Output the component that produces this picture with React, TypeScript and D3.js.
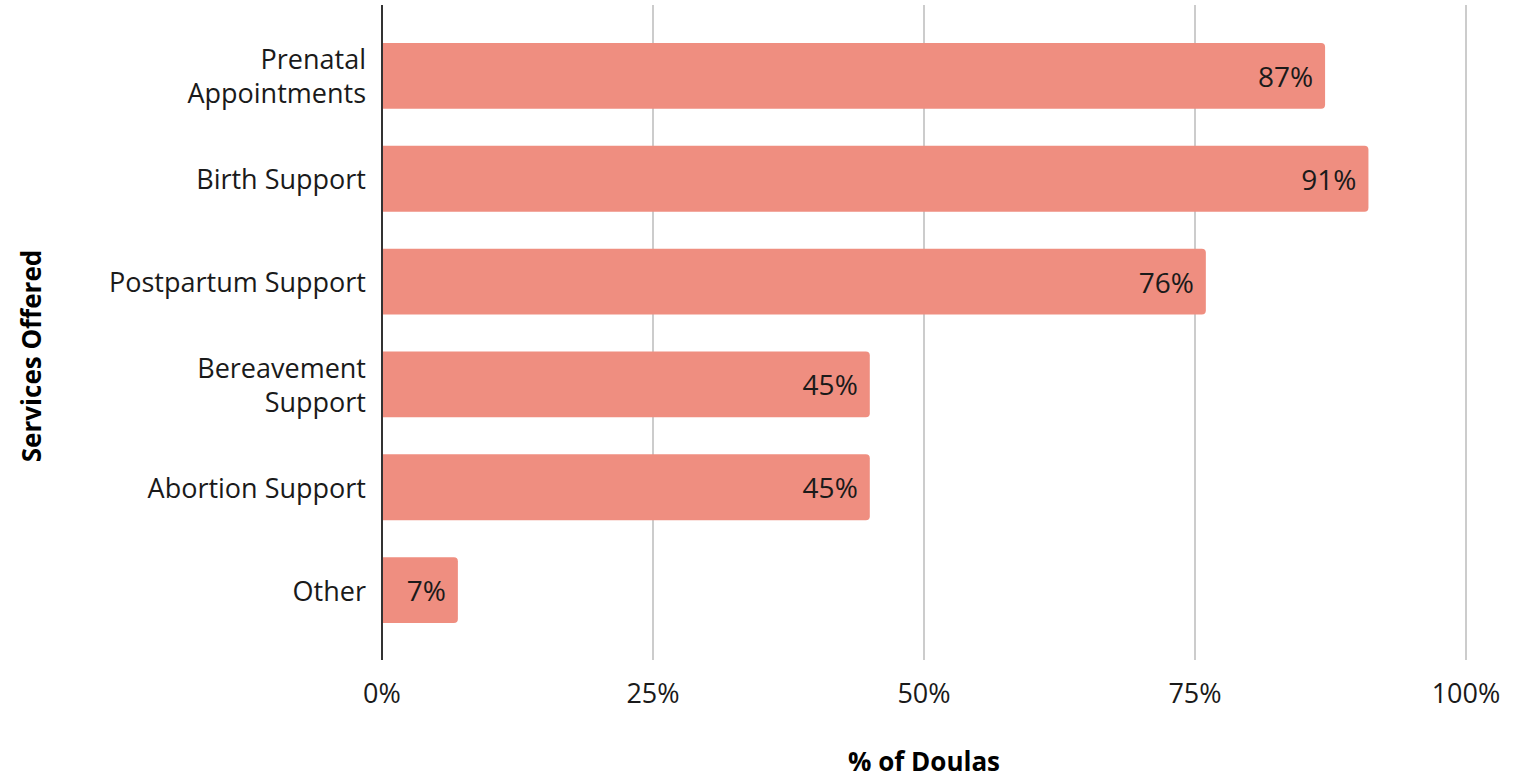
import React from "react";
import * as d3 from "d3";

const categories = [
  ["Prenatal", "Appointments"],
  ["Birth Support"],
  ["Postpartum Support"],
  ["Bereavement", "Support"],
  ["Abortion Support"],
  ["Other"],
];
const values = [87, 91, 76, 45, 45, 7];
const xTicks = [0, 25, 50, 75, 100];

const W = 1513;
const H = 782;
const FONT = "'Open Sans', Lato, sans-serif";

export default function App() {
  const x = d3.scaleLinear().domain([0, 100]).range([382, 1466]);
  const keys = categories.map((c) => c.join(" "));
  const y = d3
    .scaleBand<string>()
    .domain(keys)
    .range([24.5, 641.5])
    .paddingInner(0.36)
    .paddingOuter(0.18);
  const bw = y.bandwidth();
  const r = 4;

  const barPath = (v: number, top: number) => {
    const x0 = x(0);
    const x1 = x(v);
    const p = d3.path();
    p.moveTo(x0, top);
    p.lineTo(x1 - r, top);
    p.arcTo(x1, top, x1, top + r, r);
    p.lineTo(x1, top + bw - r);
    p.arcTo(x1, top + bw, x1 - r, top + bw, r);
    p.lineTo(x0, top + bw);
    p.closePath();
    return p.toString();
  };

  return (
    <svg
      width={W}
      height={H}
      style={{ position: "absolute", left: 0, top: 0, background: "#fff" }}
      fontFamily={FONT}
    >
      {xTicks.slice(1).map((t) => (
        <line key={t} x1={x(t)} x2={x(t)} y1={5} y2={660} stroke="#cccccc" strokeWidth={2} />
      ))}
      {values.map((v, i) => {
        const top = y(keys[i])!;
        return (
          <g key={keys[i]}>
            <path d={barPath(v, top)} fill="#ef8e80" />
            <text
              x={x(v) - 12}
              y={top + bw / 2}
              textAnchor="end"
              dominantBaseline="central"
              fontSize={28}
              fill="#1a1a1a"
            >
              {v}%
            </text>
          </g>
        );
      })}
      <line x1={x(0)} x2={x(0)} y1={5} y2={660} stroke="#333" strokeWidth={2} />
      {categories.map((lines, i) => {
        const cy = y(keys[i])! + bw / 2;
        const lh = 34;
        return (
          <text key={keys[i]} x={366} textAnchor="end" fontSize={27} fill="#1a1a1a">
            {lines.map((l, j) => (
              <tspan
                key={j}
                x={366}
                y={cy + (j - (lines.length - 1) / 2) * lh}
                dominantBaseline="central"
              >
                {l}
              </tspan>
            ))}
          </text>
        );
      })}
      {xTicks.map((t) => (
        <text
          key={t}
          x={x(t)}
          y={692}
          textAnchor="middle"
          dominantBaseline="central"
          fontSize={27}
          fill="#1a1a1a"
        >
          {t}%
        </text>
      ))}
      <text
        x={x(50)}
        y={761}
        textAnchor="middle"
        dominantBaseline="central"
        fontSize={26}
        fontWeight="bold"
        fill="#000"
      >
        % of Doulas
      </text>
      <text
        transform={`translate(31, 356) rotate(-90)`}
        textAnchor="middle"
        dominantBaseline="central"
        fontSize={26}
        fontWeight="bold"
        fill="#000"
      >
        Services Offered
      </text>
    </svg>
  );
}
